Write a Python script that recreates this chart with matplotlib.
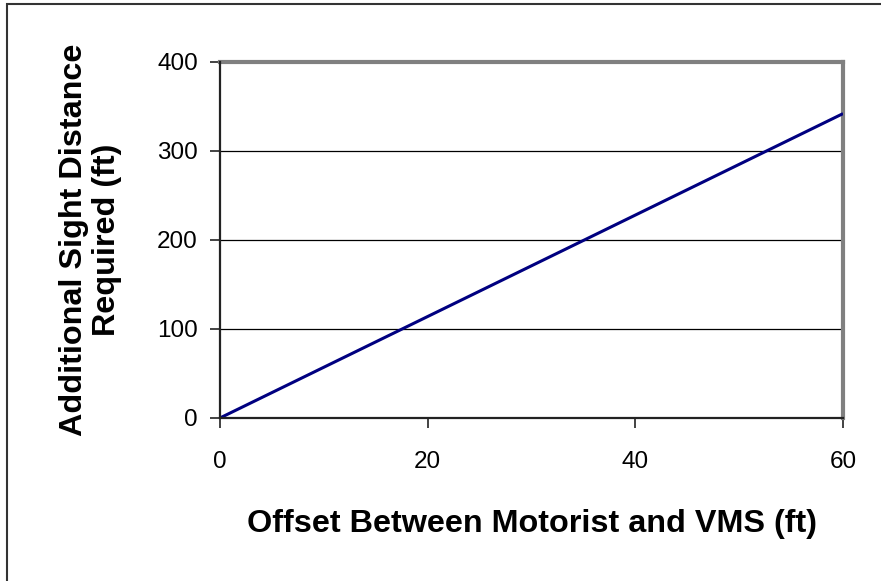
import matplotlib
matplotlib.use("Agg")
import matplotlib.pyplot as plt
from matplotlib.patches import Rectangle

# offset (ft) vs additional sight distance (ft)
offset = [0, 10, 20, 30, 40, 50, 60]
sight_dist = [0, 57, 114, 171, 228, 285, 342]

x_ticks = [0, 20, 40, 60]
y_ticks = [0, 100, 200, 300, 400]

plt.rcParams['font.family'] = ['Liberation Sans', 'DejaVu Sans']

fig = plt.figure(figsize=(8.81, 5.81), dpi=100)
ax = fig.add_axes([0.2497, 0.2806, 0.7072, 0.6127])

ax.plot(offset, sight_dist, color='#000080', lw=2.2, solid_capstyle='butt', zorder=3)

ax.set_xlim(0, 60)
ax.set_ylim(0, 400)
ax.set_xticks(x_ticks)
ax.set_yticks(y_ticks)
ax.tick_params(direction='out', length=7, width=1.2, labelsize=17.5, color='#222222')
ax.tick_params(axis='y', pad=9)
ax.tick_params(axis='x', pad=17)
ax.yaxis.grid(True, color='black', lw=0.9)
ax.set_axisbelow(True)

for s in ['top', 'right']:
    ax.spines[s].set_color('#808080')
    ax.spines[s].set_linewidth(3)
for s in ['left', 'bottom']:
    ax.spines[s].set_color('#222222')
    ax.spines[s].set_linewidth(1.6)
    ax.spines[s].set_zorder(4)

ax.set_xlabel('Offset Between Motorist and VMS (ft)', fontsize=23.3, fontweight='bold', labelpad=26)
ax.set_ylabel('Additional Sight Distance\nRequired (ft)', fontsize=23.3, fontweight='bold', labelpad=25,
              linespacing=1.15)

# outer frame around the chart area
fig.patches.append(Rectangle((7 / 881, -0.05), 1.0, 1 - 4 / 581 + 0.05, transform=fig.transFigure,
                             fill=False, edgecolor='#333333', lw=1.5))

fig.savefig('out.png', dpi=100)
